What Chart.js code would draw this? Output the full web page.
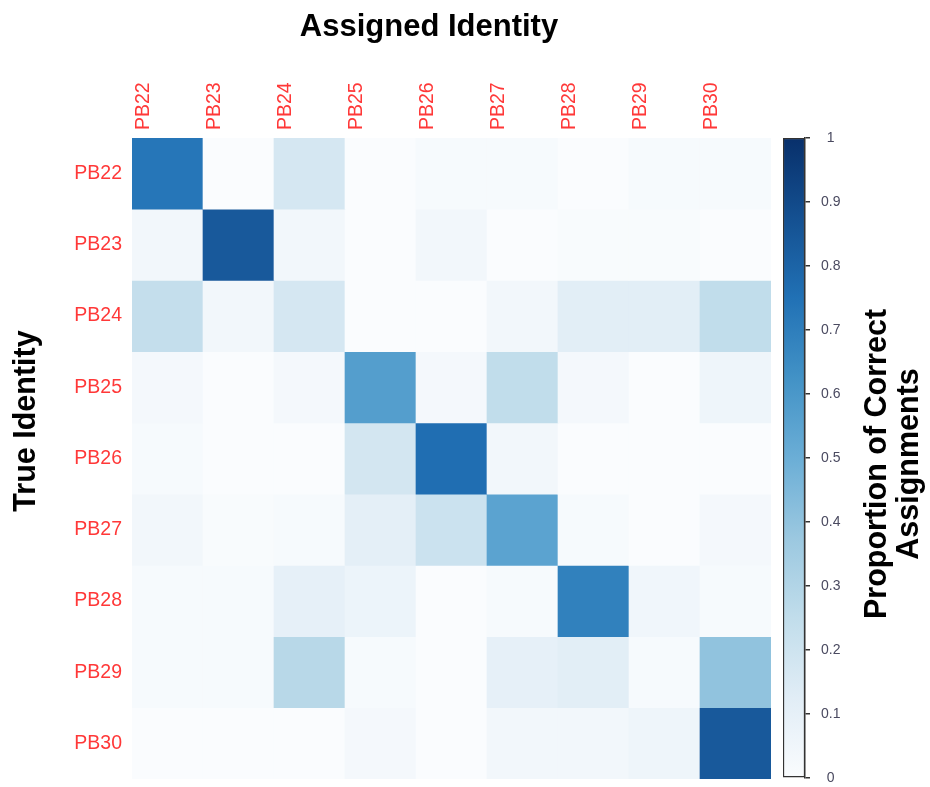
<!DOCTYPE html>
<html>
<head>
<meta charset="utf-8">
<title>Assigned vs True Identity</title>
<script src="https://cdn.jsdelivr.net/npm/chart.js@4.4.1/dist/chart.umd.min.js"></script>
<style>
  html, body { margin: 0; padding: 0; background: #ffffff; }
  #wrap { position: relative; width: 930px; height: 787px; }
  #heat { position: absolute; left: 0; top: 0; }
  #bar { position: absolute; left: 772px; top: 0; }
</style>
</head>
<body>
<div id="wrap">
  <canvas id="heat" width="930" height="787"></canvas>
  <canvas id="bar" width="158" height="787"></canvas>
</div>
<script>
// Individuals (columns = assigned, rows = true)
const assignedIds = ['PB22', 'PB23', 'PB24', 'PB25', 'PB26', 'PB27', 'PB28', 'PB29', 'PB30'];
const trueIds     = ['PB22', 'PB23', 'PB24', 'PB25', 'PB26', 'PB27', 'PB28', 'PB29', 'PB30'];

// Proportion of assignments, one array per true identity
const rowPB22 = [0.73, 0.00, 0.17, 0.00, 0.02, 0.02, 0.00, 0.02, 0.02];
const rowPB23 = [0.04, 0.84, 0.04, 0.00, 0.04, 0.00, 0.01, 0.01, 0.00];
const rowPB24 = [0.24, 0.04, 0.17, 0.00, 0.00, 0.04, 0.12, 0.12, 0.25];
const rowPB25 = [0.03, 0.00, 0.03, 0.57, 0.03, 0.25, 0.03, 0.00, 0.06];
const rowPB26 = [0.02, 0.00, 0.00, 0.18, 0.76, 0.04, 0.00, 0.00, 0.00];
const rowPB27 = [0.04, 0.01, 0.02, 0.11, 0.21, 0.55, 0.02, 0.00, 0.03];
const rowPB28 = [0.02, 0.02, 0.10, 0.07, 0.00, 0.02, 0.69, 0.05, 0.02];
const rowPB29 = [0.02, 0.02, 0.28, 0.02, 0.00, 0.10, 0.12, 0.02, 0.40];
const rowPB30 = [0.00, 0.00, 0.00, 0.03, 0.00, 0.04, 0.04, 0.06, 0.84];
const proportions = [rowPB22, rowPB23, rowPB24, rowPB25, rowPB26, rowPB27, rowPB28, rowPB29, rowPB30];

// Colour bar ticks
const scaleTicks = [0, 0.1, 0.2, 0.3, 0.4, 0.5, 0.6, 0.7, 0.8, 0.9, 1];

// Sequential blue palette, evenly spaced from 0 to 1
const blueStops = ['#fafcfe', '#e1edf6', '#c1ddeb', '#9bc8e0', '#6baed6', '#4292c6', '#2171b5', '#145091', '#08306b'];
const stopRgb = blueStops.map(h => [1, 3, 5].map(i => parseInt(h.substr(i, 2), 16)));

function blueFor(v) {
  const t = Math.max(0, Math.min(1, v)) * (stopRgb.length - 1);
  const i = Math.min(Math.floor(t), stopRgb.length - 2);
  const f = t - i;
  const c = stopRgb[i].map((a, k) => Math.round(a + (stopRgb[i + 1][k] - a) * f));
  return `rgb(${c[0]},${c[1]},${c[2]})`;
}

const FONT = '"Liberation Sans", Arial, Helvetica, sans-serif';
const LABEL_RED = '#ff3838';

// Axis titles drawn on the main canvas
const titlesPlugin = {
  id: 'heatTitles',
  afterDraw(chart) {
    const c = chart.ctx;
    c.save();
    c.fillStyle = '#000000';
    c.textAlign = 'center';
    c.textBaseline = 'middle';
    c.font = `bold 31px ${FONT}`;
    c.fillText('Assigned Identity', 429, 27);

    c.font = `bold 30.5px ${FONT}`;
    const vertical = (text, x, y) => {
      c.save();
      c.translate(x, y);
      c.rotate(-Math.PI / 2);
      c.fillText(text, 0, 0);
      c.restore();
    };
    vertical('True Identity', 27, 421);
    vertical('Proportion of Correct', 878, 464);
    vertical('Assignments', 910, 464);
    c.restore();
  }
};

// Heat map: one stacked bar segment per cell, coloured by its proportion
const heatDatasets = trueIds.map((id, r) => ({
  label: id,
  data: assignedIds.map(() => 1),
  backgroundColor: proportions[r].map(blueFor),
  borderWidth: 0,
  barPercentage: 1,
  categoryPercentage: 1,
  stack: 'cells'
}));

new Chart(document.getElementById('heat'), {
  type: 'bar',
  data: { labels: assignedIds, datasets: heatDatasets },
  plugins: [titlesPlugin],
  options: {
    responsive: false,
    animation: false,
    layout: { padding: { top: 0, left: 0, right: 159, bottom: 8 } },
    plugins: { legend: { display: false }, tooltip: { enabled: false }, title: { display: false } },
    scales: {
      x: {
        type: 'category',
        position: 'top',
        stacked: true,
        grid: { display: false, drawTicks: false },
        border: { display: false },
        ticks: {
          color: LABEL_RED,
          font: { family: FONT, size: 19.5 },
          minRotation: 90,
          maxRotation: 90,
          padding: 8,
          autoSkip: false
        },
        afterFit(scale) {
          scale.height = 138;
          scale.paddingLeft = 0;
          scale.paddingRight = 0;
        }
      },
      y: {
        type: 'linear',
        stacked: true,
        reverse: true,
        min: 0,
        max: trueIds.length,
        grid: { display: false, drawTicks: false },
        border: { display: false },
        afterBuildTicks(scale) {
          scale.ticks = trueIds.map((_, i) => ({ value: i + 0.5 }));
        },
        ticks: {
          color: LABEL_RED,
          font: { family: FONT, size: 19.5 },
          padding: 10,
          callback: (value) => trueIds[Math.floor(value)]
        },
        afterFit(scale) {
          scale.width = 132;
          scale.paddingTop = 0;
          scale.paddingBottom = 0;
        }
      }
    }
  }
});

// Colour bar: a single bar filled with the palette gradient
function barGradient(context) {
  const { chart } = context;
  const area = chart.chartArea;
  if (!area) return blueFor(0.5);
  const g = chart.ctx.createLinearGradient(0, area.bottom, 0, area.top);
  blueStops.forEach((col, i) => g.addColorStop(i / (blueStops.length - 1), col));
  return g;
}

new Chart(document.getElementById('bar'), {
  type: 'bar',
  data: {
    labels: [''],
    datasets: [{
      data: [1],
      backgroundColor: barGradient,
      borderColor: '#333333',
      borderWidth: 1.5,
      borderSkipped: false,
      barPercentage: 1,
      categoryPercentage: 1
    }]
  },
  options: {
    responsive: false,
    animation: false,
    layout: { padding: { top: 138, left: 11, right: 0, bottom: 9 } },
    plugins: { legend: { display: false }, tooltip: { enabled: false } },
    scales: {
      x: { display: false },
      y: {
        position: 'right',
        min: 0,
        max: 1,
        afterBuildTicks(scale) {
          scale.ticks = scaleTicks.map(v => ({ value: v }));
        },
        grid: {
          display: true,
          drawOnChartArea: false,
          drawTicks: true,
          tickLength: 5,
          color: '#333333',
          lineWidth: 1.5
        },
        border: { display: true, color: '#333333', width: 1.5 },
        ticks: {
          color: '#4a4a60',
          font: { family: FONT, size: 14 },
          padding: 11,
          crossAlign: 'center',
          callback: (v) => String(Math.round(v * 10) / 10)
        },
        afterFit(scale) {
          scale.width = 125;
          scale.paddingTop = 0;
          scale.paddingBottom = 0;
        }
      }
    }
  }
});
</script>
</body>
</html>
